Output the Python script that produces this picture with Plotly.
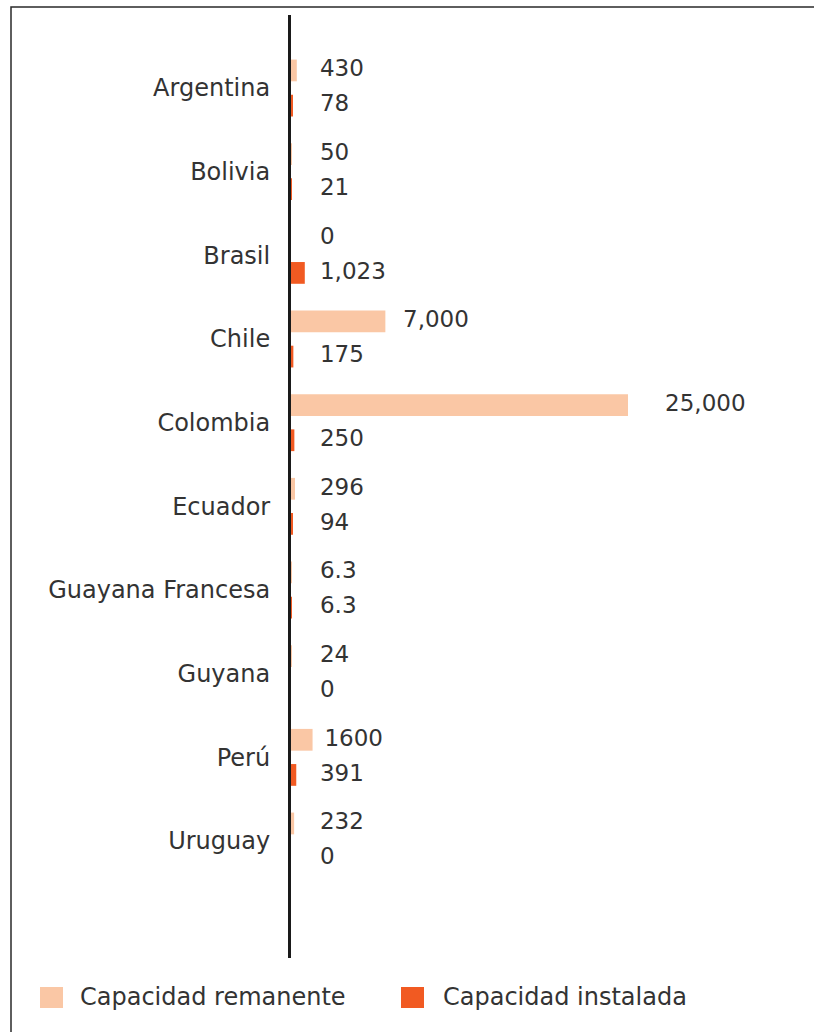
import plotly.graph_objects as go

# Capacity by country (MW)
countries = ["Argentina", "Bolivia", "Brasil", "Chile", "Colombia", "Ecuador",
             "Guayana Francesa", "Guyana", "Perú", "Uruguay"]
remanente = [430, 50, 0, 7000, 25000, 296, 6.3, 24, 1600, 232]
instalada = [78, 21, 1023, 175, 250, 94, 6.3, 0, 391, 0]
remanente_text = ["430", "50", "0", "7,000", "25,000", "296", "6.3", "24", "1600", "232"]
instalada_text = ["78", "21", "1,023", "175", "250", "94", "6.3", "0", "391", "0"]

COLOR_REM = "#FAC7A5"
COLOR_INS = "#F15A22"
TEXT_COLOR = "#333333"
FONT = "DejaVu Sans"

W, H = 814, 1032
PLOT_L, PLOT_R, PLOT_T, PLOT_B = 291, 791, 15, 958
X_MAX = 25000 * (PLOT_R - PLOT_L) / 337.0

# category pitch and position of the first category (pixels)
ROW_PX = 83.67
FIRST_ROW_PX = 88.0
Y_TOP = -(FIRST_ROW_PX - PLOT_T) / ROW_PX
Y_BOTTOM = (PLOT_B - FIRST_ROW_PX) / ROW_PX

BAR_W = 0.26
HALF_GAP = 0.21
pos = list(range(len(countries)))


def label_x(v):
    # value labels sit past the bar end, never closer than a fixed floor
    return max(v * 1.08 + 750, 2150)


def px_x(px):
    return (px - PLOT_L) / (PLOT_R - PLOT_L)


def px_y(py):
    return (PLOT_B - py) / (PLOT_B - PLOT_T)


fig = go.Figure()

fig.add_trace(go.Bar(
    y=pos, x=remanente, orientation="h", name="Capacidad remanente",
    marker=dict(color=COLOR_REM, line=dict(width=0)),
    width=BAR_W, offset=-HALF_GAP - BAR_W / 2, showlegend=False, hoverinfo="x",
))
fig.add_trace(go.Bar(
    y=pos, x=instalada, orientation="h", name="Capacidad instalada",
    marker=dict(color=COLOR_INS, line=dict(width=0)),
    width=BAR_W, offset=HALF_GAP - BAR_W / 2, showlegend=False, hoverinfo="x",
))

fig.add_trace(go.Scatter(
    x=[label_x(v) for v in remanente], y=[p - HALF_GAP for p in pos],
    mode="text", text=remanente_text, textposition="middle right",
    textfont=dict(family=FONT, size=23, color=TEXT_COLOR),
    showlegend=False, hoverinfo="skip", cliponaxis=False,
))
fig.add_trace(go.Scatter(
    x=[label_x(v) for v in instalada], y=[p + HALF_GAP for p in pos],
    mode="text", text=instalada_text, textposition="middle right",
    textfont=dict(family=FONT, size=23, color=TEXT_COLOR),
    showlegend=False, hoverinfo="skip", cliponaxis=False,
))

shapes = [
    # outer frame
    dict(type="rect", xref="paper", yref="paper",
         x0=px_x(11), x1=px_x(830), y0=px_y(1050), y1=px_y(7),
         line=dict(color="#2a2a2a", width=1.5), fillcolor="rgba(0,0,0,0)",
         layer="above"),
    # legend swatches
    dict(type="rect", xref="paper", yref="paper",
         x0=px_x(40), x1=px_x(63), y0=px_y(1008), y1=px_y(987),
         line=dict(width=0), fillcolor=COLOR_REM),
    dict(type="rect", xref="paper", yref="paper",
         x0=px_x(401), x1=px_x(424), y0=px_y(1008), y1=px_y(987),
         line=dict(width=0), fillcolor=COLOR_INS),
]

annotations = [
    dict(xref="paper", yref="paper", x=px_x(78), y=px_y(997),
         xanchor="left", yanchor="middle", showarrow=False,
         text="Capacidad remanente",
         font=dict(family=FONT, size=24, color=TEXT_COLOR)),
    dict(xref="paper", yref="paper", x=px_x(441), y=px_y(997),
         xanchor="left", yanchor="middle", showarrow=False,
         text="Capacidad instalada",
         font=dict(family=FONT, size=24, color=TEXT_COLOR)),
]

fig.update_layout(
    width=W, height=H,
    margin=dict(l=PLOT_L, r=W - PLOT_R, t=PLOT_T, b=H - PLOT_B, pad=0),
    paper_bgcolor="white", plot_bgcolor="white",
    barmode="overlay",
    shapes=shapes, annotations=annotations,
    xaxis=dict(range=[0, X_MAX], visible=False, fixedrange=True),
    yaxis=dict(
        range=[Y_BOTTOM, Y_TOP], tickmode="array", tickvals=pos, ticktext=countries,
        showline=True, linecolor="#1a1a1a", linewidth=3,
        showgrid=False, zeroline=False,
        ticks="outside", ticklen=13, tickcolor="rgba(0,0,0,0)",
        tickfont=dict(family=FONT, size=24, color=TEXT_COLOR),
        fixedrange=True,
    ),
    showlegend=False,
)

fig.write_html("out.html")
